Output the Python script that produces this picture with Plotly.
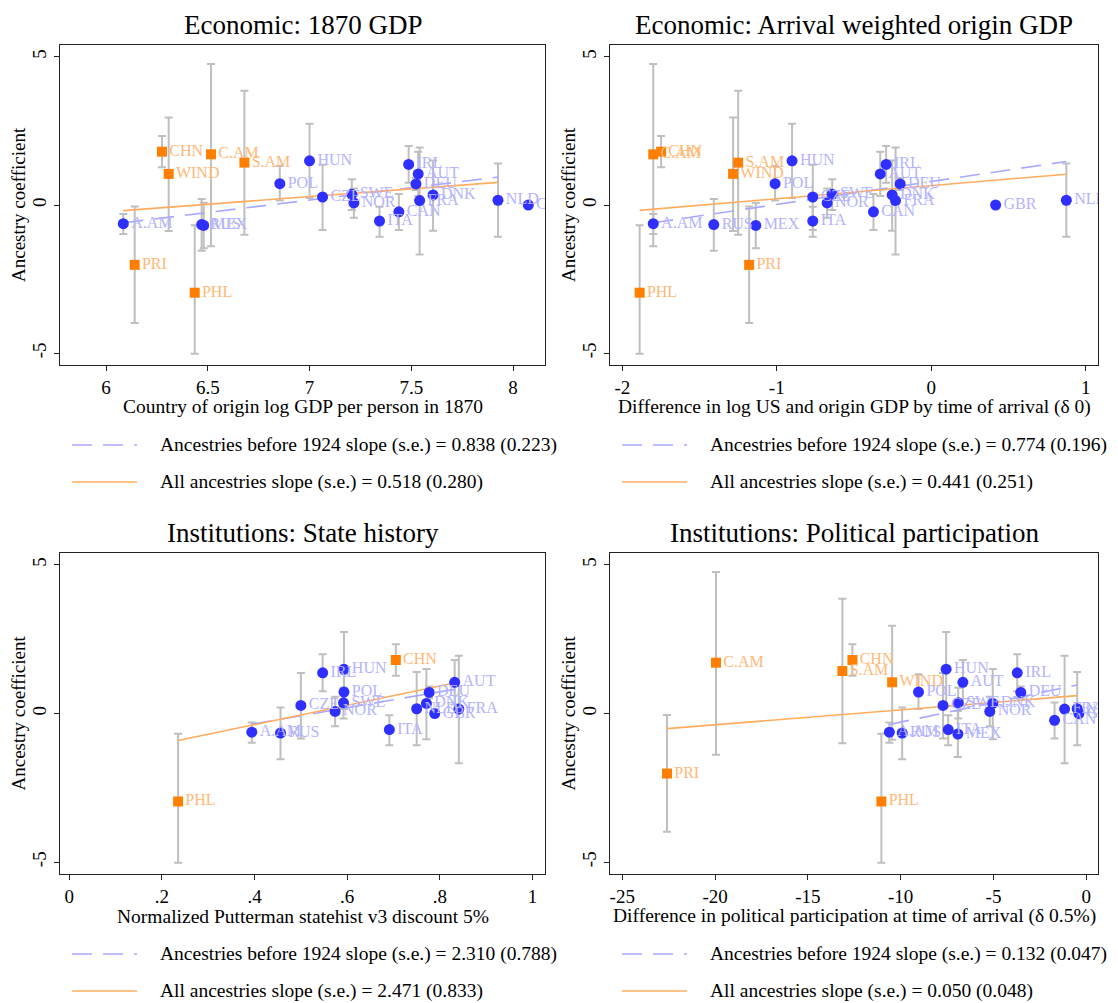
import plotly.graph_objects as go

# ---------------- data ----------------
blue_codes = ["A.AM", "RUS", "MEX", "POL", "HUN", "CZE", "SWE", "NOR", "ITA",
              "CAN", "IRL", "DEU", "AUT", "FRA", "DNK", "NLD", "GBR"]
blue_coef = [-0.63, -0.66, -0.69, 0.72, 1.49, 0.27, 0.36, 0.07, -0.54,
             -0.23, 1.37, 0.71, 1.05, 0.15, 0.34, 0.16, 0.0]
blue_lo = [-0.98, -1.54, -1.46, 0.15, 0.24, -0.84, -0.17, -0.43, -1.07,
           -0.84, 0.75, 0.51, 0.30, -1.67, -0.87, -1.07, None]
blue_hi = [-0.30, 0.20, 0.08, 1.32, 2.74, 1.36, 0.87, 0.56, -0.06,
           0.37, 1.99, 0.91, 1.80, 1.94, 1.50, 1.40, None]

orange_codes = ["CHN", "WIND", "C.AM", "S.AM", "PRI", "PHL"]
orange_coef = [1.80, 1.05, 1.71, 1.43, -2.02, -2.96]
orange_lo = [1.27, -0.88, -1.39, -1.00, -3.98, -5.02]
orange_hi = [2.33, 2.95, 4.76, 3.86, -0.05, -0.68]

# x variables per panel
gdp1870_blue = [6.085, 6.47, 6.48, 6.854, 7.0, 7.064, 7.208, 7.218, 7.344,
                7.439, 7.487, 7.523, 7.534, 7.541, 7.607, 7.926, 8.075]
gdp1870_orange = [6.275, 6.308, 6.516, 6.680, 6.141, 6.436]

arrival_blue = [-1.80, -1.408, -1.136, -1.011, -0.901, -0.767, -0.641, -0.674, -0.767,
                -0.374, -0.292, -0.201, -0.330, -0.231, -0.253, 0.875, 0.417]
arrival_orange = [-1.749, -1.283, -1.80, -1.25, -1.179, -1.888]

state_blue = [0.394, 0.456, None, 0.593, 0.593, 0.500, 0.592, 0.574, 0.691,
              None, 0.547, 0.777, 0.832, 0.841, 0.771, 0.750, 0.789]
state_orange = [0.705, None, None, None, None, 0.235]

polpart_blue = [-10.61, -9.92, -6.92, -9.04, -7.55, -7.72, -6.90, -5.20, -7.44,
                -1.71, -3.72, -3.53, -6.65, -1.17, -5.04, -0.49, -0.40]
polpart_orange = [-12.60, -10.46, -19.95, -13.14, -22.59, -11.04]

# fitted line values at the left and right end of each sample
fit_pre1924_start = [-0.60, -0.60, -0.36, -0.37]
fit_pre1924_end = [0.94, 1.47, 0.84, 0.96]
fit_all_start = [-0.19, -0.18, -0.91, -0.51]
fit_all_end = [0.765, 1.04, 1.06, 0.60]

slope_pre1924 = ["0.838 (0.223)", "0.774 (0.196)", "2.310 (0.788)", "0.132 (0.047)"]
slope_all = ["0.518 (0.280)", "0.441 (0.251)", "2.471 (0.833)", "0.050 (0.048)"]

titles = ["Economic: 1870 GDP", "Economic: Arrival weighted origin GDP",
          "Institutions: State history", "Institutions: Political participation"]
xtitles = ["Country of origin log GDP per person in 1870",
           "Difference in log US and origin GDP by time of arrival (\u03b4 0)",
           "Normalized Putterman statehist v3 discount 5%",
           "Difference in political participation at time of arrival (\u03b4 0.5%)"]
xtick_vals = [[6, 6.5, 7, 7.5, 8], [-2, -1, 0, 1], [0, 0.2, 0.4, 0.6, 0.8, 1],
              [-25, -20, -15, -10, -5, 0]]
xtick_text = [["6", "6.5", "7", "7.5", "8"], ["-2", "-1", "0", "1"],
              ["0", ".2", ".4", ".6", ".8", "1"],
              ["-25", "-20", "-15", "-10", "-5", "0"]]
ytick_vals = [-5, 0, 5]
ytick_text = ["-5", "0", "5"]

# ---------------- layout / style ----------------
OFF = 8                      # page body margin of the browser
W, H = 1118 - OFF, 1003 - OFF
FONT = "Liberation Serif"
panels = [dict(x0=60, x1=545, y0=45, y1=365), dict(x0=610, x1=1098, y0=45, y1=365),
          dict(x0=60, x1=545, y0=553, y1=874), dict(x0=610, x1=1098, y0=553, y1=874)]
x_ranges = [[5.774, 8.157], [-2.08, 1.08], [-0.02, 1.027], [-25.66, 0.63]]
y_range = [-5.4, 5.4]

BLUE = "#2f2fff"
BLUE_TXT = "#b3b3ff"
BLUE_LINE = "#a8a8ff"
ORANGE = "#ff7f00"
ORANGE_TXT = "#ffb877"
ORANGE_LINE = "#ffac5e"
ERR = "#bfbfbf"


def fx(p):
    return (p - OFF) / W


def fy(p):
    return 1 - (p - OFF) / H


xs_blue = [gdp1870_blue, arrival_blue, state_blue, polpart_blue]
xs_orange = [gdp1870_orange, arrival_orange, state_orange, polpart_orange]

fig = go.Figure()
annotations = []
shapes = []


def subset(xv, codes, coef, lo, hi):
    out = [(x, c, y, l, h) for x, c, y, l, h in zip(xv, codes, coef, lo, hi) if x is not None]
    X = [o[0] for o in out]
    C = [o[1] for o in out]
    Y = [o[2] for o in out]
    up = [None if o[4] is None else o[4] - o[2] for o in out]
    dn = [None if o[3] is None else o[2] - o[3] for o in out]
    return X, C, Y, up, dn


for i in range(4):
    ax = "" if i == 0 else str(i + 1)
    xref, yref = "x" + ax, "y" + ax

    bX, bC, bY, bUp, bDn = subset(xs_blue[i], blue_codes, blue_coef, blue_lo, blue_hi)
    oX, oC, oY, oUp, oDn = subset(xs_orange[i], orange_codes, orange_coef, orange_lo, orange_hi)

    # error bars
    for X, Y, up, dn in [(oX, oY, oUp, oDn), (bX, bY, bUp, bDn)]:
        fig.add_trace(go.Scatter(
            x=X, y=Y, mode="markers", xaxis=xref, yaxis=yref,
            marker=dict(size=1, color="rgba(0,0,0,0)"),
            error_y=dict(type="data", symmetric=False, array=up, arrayminus=dn,
                         color=ERR, thickness=2, width=4),
            showlegend=False, hoverinfo="skip"))

    # fitted lines (GBR is the reference category, excluded)
    bfx = [x for x, c in zip(bX, bC) if c != "GBR"]
    afx = bfx + oX
    fig.add_trace(go.Scatter(
        x=[min(bfx), max(bfx)], y=[fit_pre1924_start[i], fit_pre1924_end[i]],
        mode="lines", xaxis=xref, yaxis=yref,
        line=dict(color=BLUE_LINE, width=1.6, dash="20px,11px"),
        showlegend=False, hoverinfo="skip"))
    fig.add_trace(go.Scatter(
        x=[min(afx), max(afx)], y=[fit_all_start[i], fit_all_end[i]],
        mode="lines", xaxis=xref, yaxis=yref,
        line=dict(color=ORANGE_LINE, width=1.6),
        showlegend=False, hoverinfo="skip"))

    # markers + labels
    fig.add_trace(go.Scatter(
        x=oX, y=oY, text=oC, mode="markers+text", xaxis=xref, yaxis=yref,
        marker=dict(symbol="square", size=10, color=ORANGE),
        textposition="middle right",
        textfont=dict(family=FONT, size=16, color=ORANGE_TXT),
        cliponaxis=True, showlegend=False))
    fig.add_trace(go.Scatter(
        x=bX, y=bY, text=bC, mode="markers+text", xaxis=xref, yaxis=yref,
        marker=dict(symbol="circle", size=11, color=BLUE),
        textposition="middle right",
        textfont=dict(family=FONT, size=16, color=BLUE_TXT),
        cliponaxis=True, showlegend=False))

    p = panels[i]
    axis_common = dict(showgrid=False, zeroline=False, showline=True, mirror=True,
                       linecolor="#222222", linewidth=1, ticks="outside", ticklen=5,
                       tickcolor="#222222", tickfont=dict(family=FONT, size=19, color="black"))
    fig.layout["xaxis" + ax] = dict(
        domain=[fx(p["x0"]), fx(p["x1"])], anchor=yref, range=x_ranges[i],
        tickvals=xtick_vals[i], ticktext=xtick_text[i], **axis_common)
    fig.layout["yaxis" + ax] = dict(
        domain=[fy(p["y1"]), fy(p["y0"])], anchor=xref, range=y_range,
        tickvals=ytick_vals, ticktext=ytick_text, tickangle=-90, **axis_common)

    cx = (p["x0"] + p["x1"]) / 2
    cy = (p["y0"] + p["y1"]) / 2
    # panel title
    annotations.append(dict(text=titles[i], x=fx(cx), y=fy(p["y0"] - 20), xref="paper", yref="paper",
                            showarrow=False, xanchor="center", yanchor="middle",
                            font=dict(family=FONT, size=27, color="black")))
    # x axis title
    annotations.append(dict(text=xtitles[i], x=fx(cx), y=fy(p["y1"] + 42), xref="paper", yref="paper",
                            showarrow=False, xanchor="center", yanchor="middle",
                            font=dict(family=FONT, size=19.5, color="black")))
    # y axis title
    annotations.append(dict(text="Ancestry coefficient", x=fx(p["x0"] - 42), y=fy(cy),
                            xref="paper", yref="paper", textangle=-90,
                            showarrow=False, xanchor="center", yanchor="middle",
                            font=dict(family=FONT, size=19, color="black")))
    # legend (drawn as key lines + text)
    lx0 = p["x0"] + 12
    lx1 = lx0 + 65
    ly1 = p["y1"] + 80
    ly2 = p["y1"] + 117
    shapes.append(dict(type="line", xref="paper", yref="paper", x0=fx(lx0), x1=fx(lx1),
                       y0=fy(ly1), y1=fy(ly1),
                       line=dict(color=BLUE_LINE, width=1.6, dash="20px,11px")))
    shapes.append(dict(type="line", xref="paper", yref="paper", x0=fx(lx0), x1=fx(lx1),
                       y0=fy(ly2), y1=fy(ly2), line=dict(color=ORANGE_LINE, width=1.6)))
    annotations.append(dict(text="Ancestries before 1924 slope (s.e.) = " + slope_pre1924[i],
                            x=fx(lx1 + 21), y=fy(ly1), xref="paper", yref="paper",
                            showarrow=False, xanchor="left", yanchor="middle",
                            font=dict(family=FONT, size=19.5, color="black")))
    annotations.append(dict(text="All ancestries slope (s.e.) = " + slope_all[i],
                            x=fx(lx1 + 21), y=fy(ly2), xref="paper", yref="paper",
                            showarrow=False, xanchor="left", yanchor="middle",
                            font=dict(family=FONT, size=19.5, color="black")))

fig.update_layout(width=W, height=H, margin=dict(l=0, r=0, t=0, b=0),
                  paper_bgcolor="white", plot_bgcolor="white",
                  annotations=annotations, shapes=shapes, showlegend=False,
                  font=dict(family=FONT, color="black"))

fig.write_html("out.html")
